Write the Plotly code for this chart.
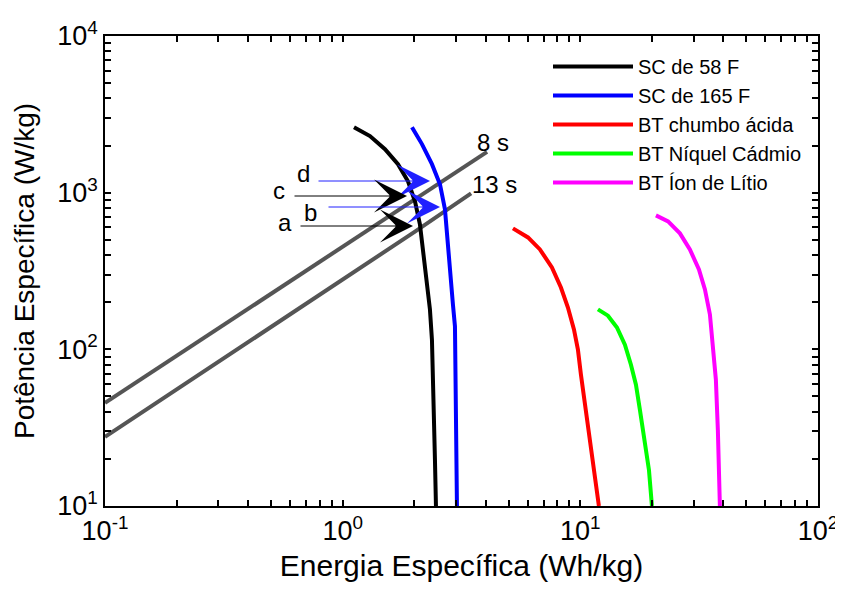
import plotly.graph_objects as go

# ---- data (Energia Wh/kg, Potência W/kg) ----
sc58_e = [1.116, 1.303, 1.507, 1.709, 1.883, 2.015, 2.114, 2.177, 2.263, 2.329, 2.375, 2.398, 2.421, 2.445, 2.469]
sc58_p = [2618, 2296, 1896, 1520, 1183, 881, 628, 434, 279, 180, 115, 74.2, 35.5, 19.7, 10]

sc165_e = [1.957, 2.156, 2.375, 2.567, 2.694, 2.773, 2.855, 2.911, 2.968, 2.997, 3.026, 3.026]
sc165_p = [2618, 2042, 1520, 1132, 783, 434, 267, 193, 140, 47.7, 22.8, 10]

pb_e = [5.205, 6.022, 6.761, 7.594, 8.286, 8.868, 9.400, 9.770, 10.06, 10.46, 10.98, 11.52, 11.97]
pb_p = [592, 518, 434, 333, 248, 185, 134, 99.5, 68.9, 44.3, 26.4, 15.8, 10]

nicd_e = [11.86, 13.07, 14.26, 15.40, 16.33, 17.14, 17.81, 18.70, 19.44, 20.01]
nicd_p = [180, 164, 138, 107, 79.8, 59.4, 41.1, 26.4, 17.0, 10]

li_e = [20.8, 23.4, 26.24, 28.9, 31.55, 33.44, 35.09, 36.1, 37.18, 37.9, 38.3, 38.65]
li_p = [716, 656, 550, 434, 324, 241, 167, 107, 64, 30.6, 17.0, 10]

t8_e = [0.1, 0.305, 1.0, 2.0, 4.05]
t8_p = [45.5, 138, 450, 900, 1822]

t13_e = [0.1, 0.3, 1.0, 2.0, 3.47]
t13_p = [27.6, 83, 277, 560, 990]

series_names = ["SC de 58 F", "SC de 165 F", "BT chumbo ácida", "BT Níquel Cádmio", "BT Íon de Lítio"]
x_tick_decades = [0.1, 1, 10, 100]
x_tick_text = ["10<sup>-1</sup>", "10<sup>0</sup>", "10<sup>1</sup>", "10<sup>2</sup>"]
y_tick_decades = [10, 100, 1000, 10000]
y_tick_text = ["10<sup>1</sup>", "10<sup>2</sup>", "10<sup>3</sup>", "10<sup>4</sup>"]

FONT = "Liberation Sans, Arial, sans-serif"

fig = go.Figure()
gray = "#555555"
fig.add_trace(go.Scatter(x=t8_e, y=t8_p, mode="lines", line=dict(color=gray, width=4), showlegend=False, hoverinfo="skip"))
fig.add_trace(go.Scatter(x=t13_e, y=t13_p, mode="lines", line=dict(color=gray, width=4), showlegend=False, hoverinfo="skip"))

colors = ["#000000", "#0000ff", "#ff0000", "#00ff00", "#ff00ff"]
for name, e, p, c in zip(series_names,
                         [sc58_e, sc165_e, pb_e, nicd_e, li_e],
                         [sc58_p, sc165_p, pb_p, nicd_p, li_p], colors):
    fig.add_trace(go.Scatter(x=e, y=p, mode="lines", name=name, line=dict(color=c, width=4)))

def all_ticks(decades):
    vals = []
    for i, d in enumerate(decades):
        for k in range(1, 10):
            if i == len(decades) - 1 and k > 1:
                break
            vals.append(d * k)
    return vals

xv = all_ticks(x_tick_decades)
xt = [x_tick_text[x_tick_decades.index(v)] if v in x_tick_decades else " " for v in xv]
yv = all_ticks(y_tick_decades)
yt = [y_tick_text[y_tick_decades.index(v)] if v in y_tick_decades else " " for v in yv]

axis_common = dict(showline=True, linecolor="black", linewidth=1.5, mirror="ticks",
                   ticks="inside", ticklen=6, tickwidth=1.5, tickcolor="black", showgrid=False, zeroline=False,
                   automargin=False, tickangle=0,
                   tickfont=dict(family=FONT, size=27, color="black"))
fig.update_xaxes(type="log", range=[-1, 2], tickmode="array", tickvals=xv, ticktext=xt,
                 title=dict(text="Energia Específica (Wh/kg)", font=dict(family=FONT, size=30, color="black"), standoff=10),
                 **axis_common)
fig.update_yaxes(type="log", range=[1, 4], tickmode="array", tickvals=yv, ticktext=yt,
                 title=dict(text="Potência Específica (W/kg)", font=dict(family=FONT, size=28, color="black"), standoff=14),
                 **axis_common)

# screen positions of the plot area (page has an 8px body margin)
OFF = 8
L, R, T, B = 105, 818, 36, 506
W, H = 843 - OFF, 600 - OFF
def px(x):
    return (x - L) / (R - L)
def py(y):
    return (B - y) / (B - T)

annos = []
# arrows: head (x,y in screen px), tail x in screen px
arrows = [
    (430, 181, 317, "#2020ff"),  # d
    (407, 196, 293, "#000000"),  # c
    (440, 207, 327, "#2020ff"),  # b
    (413, 226, 299, "#000000"),  # a
]
for hx, hy, tx, c in arrows:
    annos.append(dict(xref="paper", yref="paper", x=px(hx), y=py(hy), ax=tx - hx, ay=0,
                      axref="pixel", ayref="pixel", showarrow=True, arrowhead=3, arrowsize=5.5,
                      arrowwidth=1, arrowcolor=c, text=""))
labels = [("d", 303, 173), ("c", 279, 190), ("b", 310, 212), ("a", 285, 223),
          ("8 s", 493, 142), ("13 s", 494, 185)]
for t, x, y in labels:
    annos.append(dict(xref="paper", yref="paper", x=px(x), y=py(y), text=t, showarrow=False,
                      font=dict(family=FONT, size=24, color="black"), xanchor="center", yanchor="middle"))

fig.update_layout(
    width=W, height=H,
    margin=dict(l=L - OFF, r=W - (R - OFF), t=T - OFF, b=H - (B - OFF)),
    paper_bgcolor="white", plot_bgcolor="white",
    font=dict(family=FONT, color="black"),
    legend=dict(x=px(548), y=py(47), xanchor="left", yanchor="top", bgcolor="rgba(0,0,0,0)",
                borderwidth=0, font=dict(family=FONT, size=20, color="black"), itemwidth=80,
                tracegroupgap=0),
    annotations=annos,
)

fig.write_html("out.html")
